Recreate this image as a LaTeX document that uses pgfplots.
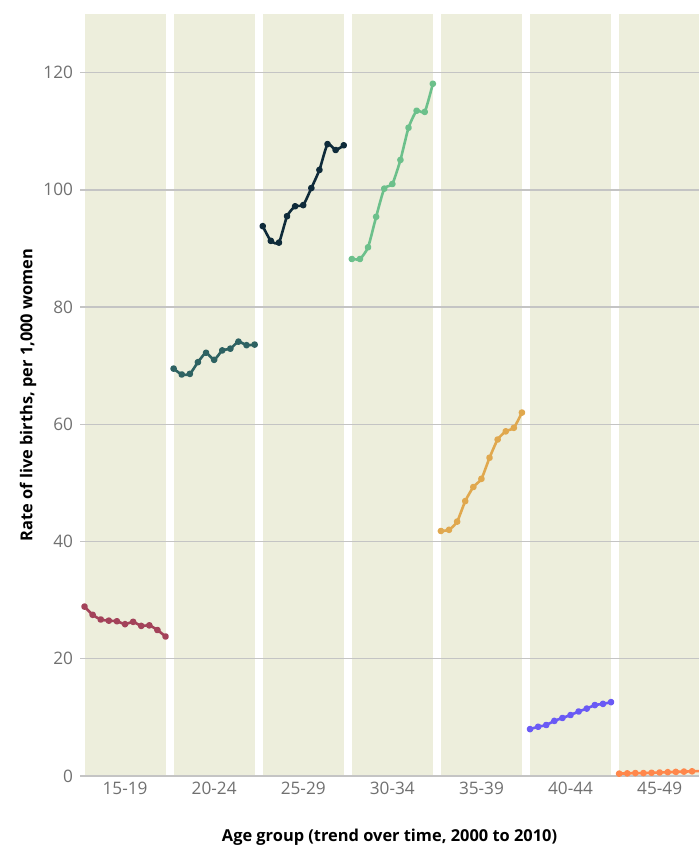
\documentclass[border=0pt]{standalone}
\usepackage{fontspec}
\setmainfont{Open Sans}
\usepackage{pgfplots}
\pgfplotsset{compat=1.18}
\usepackage{xcolor}
\definecolor{panel}{HTML}{EDEEDC}
\definecolor{gridc}{HTML}{C4C4C4}
\definecolor{tickc}{HTML}{707070}
\definecolor{cA}{HTML}{A3425A}
\definecolor{cB}{HTML}{2E6262}
\definecolor{cC}{HTML}{0F2B3A}
\definecolor{cD}{HTML}{6CC08B}
\definecolor{cE}{HTML}{E0A84E}
\definecolor{cF}{HTML}{6A5AF5}
\definecolor{cG}{HTML}{FF874B}

\begin{document}
\begin{tikzpicture}
\begin{axis}[
    set layers,
    at={(0,0)}, anchor=south west,
    scale only axis,
    width=309.5pt, height=381pt,
    xmin=-0.56, xmax=75.86, ymin=0, ymax=130,
    ytick={0,20,40,60,80,100,120},
    xtick={5,16,27,38,49,60,71},
    xticklabels={15-19,20-24,25-29,30-34,35-39,40-44,45-49},
    ymajorgrids,
    grid style={gridc, line width=0.7pt},
    axis line style={draw=none},
    tick style={draw=none},
    tick label style={font=\fontsize{8.6}{10}\selectfont, text=tickc},
    xticklabel style={yshift=0.5pt},
    /pgf/number format/assume math mode=true,
    ylabel={\bfseries Rate of live births, per 1,000 women},
    xlabel={\bfseries Age group (trend over time, 2000 to 2010)},
    label style={font=\fontsize{8.2}{10}\selectfont},
    ylabel style={at={(axis description cs:-0.084,0.5)}, anchor=center},
    xlabel style={at={(axis description cs:0.5,-0.0866)}, anchor=base},
    every axis plot/.append style={line width=1.3pt, smooth, tension=0.35,
        mark=*, mark size=1.0pt, line join=round},
]
% panels
\pgfplotsinvokeforeach{0,11,22,33,44,55,66}{
  \addplot[fill=panel, draw=none, mark=none, sharp plot, on layer=axis background]
    coordinates {(#1,0) (#1+10,0) (#1+10,130) (#1,130)} -- cycle;
}
% 15-19
\addplot[cA, mark options={fill=cA}] coordinates {
 (0,28.9) (1,27.5) (2,26.7) (3,26.5) (4,26.4) (5,25.9) (6,26.3) (7,25.6) (8,25.7) (9,24.9) (10,23.8)};
% 20-24
\addplot[cB, mark options={fill=cB}] coordinates {
 (11,69.5) (12,68.5) (13,68.6) (14,70.6) (15,72.2) (16,71.0) (17,72.6) (18,72.9) (19,74.1) (20,73.5) (21,73.6)};
% 25-29
\addplot[cC, mark options={fill=cC}] coordinates {
 (22,93.8) (23,91.3) (24,91.0) (25,95.5) (26,97.2) (27,97.4) (28,100.3) (29,103.4) (30,107.8) (31,106.8) (32,107.6)};
% 30-34
\addplot[cD, mark options={fill=cD}] coordinates {
 (33,88.2) (34,88.2) (35,90.2) (36,95.4) (37,100.2) (38,101.0) (39,105.1) (40,110.6) (41,113.5) (42,113.3) (43,118.1)};
% 35-39
\addplot[cE, mark options={fill=cE}] coordinates {
 (44,41.8) (45,42.0) (46,43.4) (47,46.9) (48,49.3) (49,50.7) (50,54.3) (51,57.4) (52,58.8) (53,59.4) (54,62.0)};
% 40-44
\addplot[cF, mark options={fill=cF}] coordinates {
 (55,8.0) (56,8.4) (57,8.7) (58,9.4) (59,9.9) (60,10.4) (61,11.0) (62,11.5) (63,12.1) (64,12.3) (65,12.6)};
% 45-49
\addplot[cG, mark options={fill=cG}] coordinates {
 (66,0.4) (67,0.45) (68,0.5) (69,0.5) (70,0.55) (71,0.6) (72,0.65) (73,0.7) (74,0.75) (75,0.8) (76,0.85)};
\end{axis}
\pgfresetboundingbox
\path (-40pt,-34.5pt) rectangle (309.5pt,388pt);
\end{tikzpicture}
\end{document}
